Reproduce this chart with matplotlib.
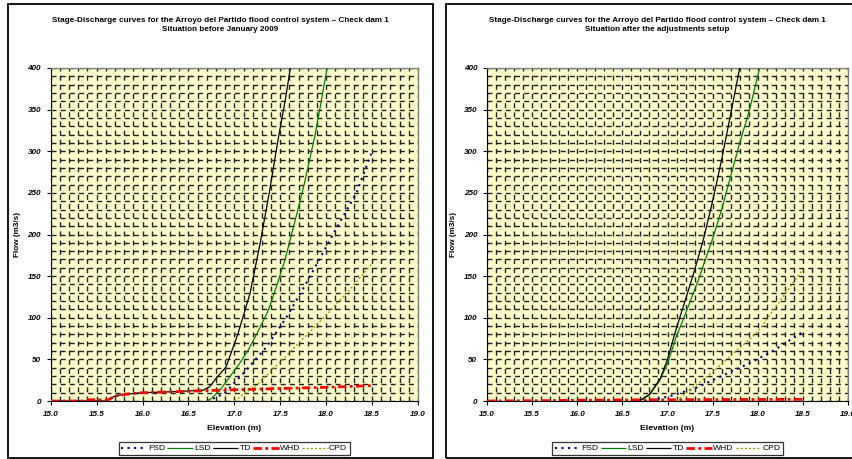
import matplotlib
matplotlib.use("Agg")
import matplotlib.pyplot as plt
from matplotlib.ticker import MultipleLocator, FormatStrFormatter
from matplotlib.patches import Rectangle

plt.rcParams['font.family'] = ['Liberation Sans', 'DejaVu Sans']
plt.rcParams['lines.scale_dashes'] = False

# ---------------- data ----------------
titles = ["Stage-Discharge curves for the Arroyo del Partido flood control system \u2013 Check dam 1\nSituation before January 2009",
          "Stage-Discharge curves for the Arroyo del Partido flood control system \u2013 Check dam 1\nSituation after the adjustments setup"]
series_names = ["FSD", "LSD", "TD", "WHD", "CPD"]

# Left panel: before January 2009
b_fsd_x = [16.70, 16.75, 16.89, 17.13, 17.35, 17.57, 17.76, 17.96, 18.14, 18.33, 18.49]
b_fsd_y = [0, 2, 9, 37, 65, 101, 137, 177, 213, 250, 297]
b_lsd_x = [16.70, 16.75, 16.85, 16.95, 17.05, 17.15, 17.26, 17.37, 17.46, 17.55, 17.62, 17.69, 17.76, 17.82, 17.88, 17.93, 18.01]
b_lsd_y = [0, 3, 14, 29, 44, 61, 84, 109, 138, 169, 199, 229, 260, 290, 320, 350, 400]
b_td_x = [15.0, 15.6, 15.65, 15.7, 15.8, 16.0, 16.3, 16.66, 16.73, 16.8, 16.91, 17.04, 17.17, 17.28, 17.38, 17.47, 17.56, 17.61]
b_td_y = [0, 0, 3, 6, 8, 10, 11, 13, 17, 27, 41, 81, 129, 189, 250, 310, 365, 400]
b_whd_x = [15.0, 15.35, 15.42, 15.58, 15.62, 15.7, 15.85, 16.0, 16.3, 16.7, 17.0, 17.5, 18.0, 18.5]
b_whd_y = [0, 0, 1.5, 1.5, 1, 6, 8.5, 10, 11, 12.5, 13.5, 15, 16.5, 18.5]
b_cpd_x = [17.0, 17.25, 17.5, 17.75, 18.0, 18.25, 18.5]
b_cpd_y = [0, 20, 47, 75, 103, 133, 165]

# Right panel: after the adjustments
a_fsd_x = [16.75, 16.9, 17.0, 17.3, 17.6, 17.9, 18.15, 18.5]
a_fsd_y = [0, 3, 5, 15, 30, 45, 59, 83]
a_lsd_x = [16.65, 16.7, 16.8, 16.92, 17.0, 17.1, 17.2, 17.34, 17.5, 17.6, 17.7, 17.8, 17.91, 18.02]
a_lsd_y = [0, 1, 7, 26, 45, 78, 105, 145, 195, 230, 270, 310, 350, 400]
a_td_x = [16.65, 16.7, 16.8, 16.92, 17.0, 17.1, 17.2, 17.3, 17.4, 17.5, 17.6, 17.71, 17.80]
a_td_y = [0, 1, 8, 27, 50, 88, 122, 157, 195, 240, 290, 350, 400]
a_whd_x = [15.0, 15.7, 16.0, 17.0, 18.5]
a_whd_y = [0, 0.5, 1, 1.5, 2]
a_cpd_x = [17.1, 17.5, 18.0, 18.41, 18.5]
a_cpd_y = [0, 35, 83, 145, 158]

xlim = (15.0, 19.0)
ylim = (0, 400)

# ---------------- styles ----------------
styles = {
    "FSD": dict(color="#000080", lw=1.5, ls=(0, (1.5, 3.2))),
    "LSD": dict(color="#008000", lw=0.9, ls="-"),
    "TD": dict(color="#000000", lw=0.9, ls="-"),
    "WHD": dict(color="#FF0000", lw=2.0, ls=(0, (6, 2.5, 2, 2.5))),
    "CPD": dict(color="#9A9A00", lw=1.0, ls=(0, (1.5, 1.5))),
}

W, H = 853, 459
fig = plt.figure(figsize=(W / 100, H / 100), dpi=100)

def fx(px):
    return px / W

def fy(py):
    return 1 - py / H

# panel borders
fig.patches.append(Rectangle((fx(8), fy(457.5)), fx(425), 454 / H, transform=fig.transFigure,
                             fill=False, edgecolor="black", lw=1.3))
fig.patches.append(Rectangle((fx(446), fy(457.5)), fx(422), 454 / H, transform=fig.transFigure,
                             fill=False, edgecolor="black", lw=1.3))

panels = [
    dict(ax_px=(50.7, 418.0), border=(8, 433), data=[(b_fsd_x, b_fsd_y), (b_lsd_x, b_lsd_y), (b_td_x, b_td_y), (b_whd_x, b_whd_y), (b_cpd_x, b_cpd_y)]),
    dict(ax_px=(487.0, 848.0), border=(446, 868), data=[(a_fsd_x, a_fsd_y), (a_lsd_x, a_lsd_y), (a_td_x, a_td_y), (a_whd_x, a_whd_y), (a_cpd_x, a_cpd_y)]),
]

top_px, bot_px = 68.0, 401.0
fs = 5.9

for i, p in enumerate(panels):
    x0, x1 = p["ax_px"]
    ax = fig.add_axes([fx(x0), fy(bot_px), fx(x1 - x0), (bot_px - top_px) / H])
    ax.set_facecolor("#FFFFCC")
    ax.set_xlim(*xlim)
    ax.set_ylim(*ylim)
    ax.xaxis.set_major_locator(MultipleLocator(0.5))
    ax.xaxis.set_minor_locator(MultipleLocator(0.1))
    ax.yaxis.set_major_locator(MultipleLocator(50))
    ax.yaxis.set_minor_locator(MultipleLocator(10))
    ax.xaxis.set_major_formatter(FormatStrFormatter("%.1f"))
    ax.yaxis.set_major_formatter(FormatStrFormatter("%d"))
    ax.grid(True, which="both", color="#202020", lw=1.0, ls=(0, (3.6, 3.0)))
    ax.set_axisbelow(True)
    ax.tick_params(which="major", direction="out", length=3, width=0.8, pad=4)
    ax.tick_params(which="minor", length=0)
    for lab in ax.get_xticklabels() + ax.get_yticklabels():
        lab.set_fontsize(fs)
        lab.set_fontweight("bold")
        lab.set_fontstyle("italic")
    for s in ("left", "bottom"):
        ax.spines[s].set_color("black")
        ax.spines[s].set_linewidth(0.8)
    for s in ("top", "right"):
        ax.spines[s].set_color("#808080")
        ax.spines[s].set_linewidth(1.0)

    handles = []
    for name, (xs, ys) in zip(series_names, p["data"]):
        st = styles[name]
        h, = ax.plot(xs, ys, color=st["color"], lw=st["lw"], ls=st["ls"], label=name,
                     solid_capstyle="butt", dash_capstyle="butt", zorder=3)
        handles.append(h)

    ax.set_xlabel("Elevation (m)", fontsize=fs + 0.2, fontweight="bold", labelpad=5)
    ax.set_ylabel("Flow (m3/s)", fontsize=fs, fontweight="bold", labelpad=5)

    b0, b1 = p["border"]
    fig.text(fx((b0 + b1) / 2), fy(25), titles[i], ha="center", va="center",
             fontsize=fs, fontweight="bold", linespacing=1.35)

    leg = ax.legend(handles=handles, loc="center", bbox_to_anchor=(0.5, (bot_px - 448.5) / (bot_px - top_px)),
                    ncol=5, fontsize=fs + 0.2, frameon=True, fancybox=False, edgecolor="black",
                    handlelength=3.0, handletextpad=0.15, columnspacing=0.25, borderpad=0.3,
                    borderaxespad=0)
    leg.get_frame().set_linewidth(0.9)

fig.savefig("out.png", dpi=100)
